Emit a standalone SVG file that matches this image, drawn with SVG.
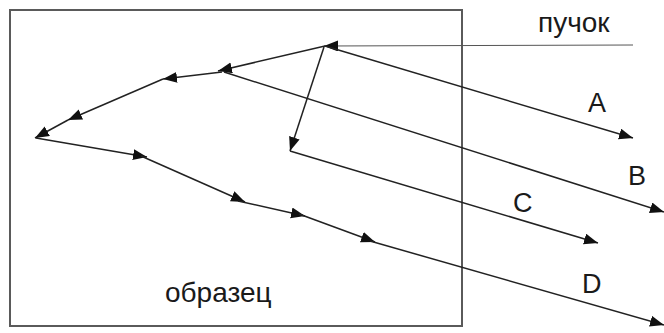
<svg xmlns="http://www.w3.org/2000/svg" width="664" height="333" viewBox="0 0 664 333">
<style>
.ray{stroke:#222;stroke-width:1.5;fill:none;marker-end:url(#ah)}
.beamline{stroke:#555;stroke-width:1;fill:none;marker-end:url(#ah)}
.lbl{font-family:"Liberation Sans",Arial,sans-serif;fill:#1a1a1a}
</style>
<defs>
<marker id="ah" markerUnits="userSpaceOnUse" markerWidth="15" markerHeight="12" refX="14" refY="5.5" orient="auto">
<path d="M0,0 L14,5.5 L0,11 Z" fill="#111"/>
</marker>
</defs>
<rect width="664" height="333" fill="#fff"/>
<g id="sample">
<rect x="10" y="10" width="452" height="316" fill="none" stroke="#5a5a5a" stroke-width="2"/>
<text class="lbl" x="165" y="302" font-size="28">образец</text>
</g>
<g id="beam">
<text class="lbl" x="538" y="32" font-size="28">пучок</text>
</g>
<g id="labels">
<text class="lbl" x="588" y="112" font-size="27">A</text>
<text class="lbl" x="628" y="185" font-size="27">B</text>
<text class="lbl" x="513" y="212" font-size="27">C</text>
<text class="lbl" x="582" y="293" font-size="27">D</text>
</g>
<g id="connectors">
<line x1="633" y1="45" x2="324" y2="46" class="beamline"/>
<line x1="325" y1="46" x2="218" y2="71" class="ray"/>
<line x1="222" y1="72" x2="163" y2="79" class="ray"/>
<line x1="163" y1="79" x2="68" y2="120" class="ray"/>
<line x1="68" y1="120" x2="35" y2="138" class="ray"/>
<line x1="36" y1="138" x2="147" y2="157" class="ray"/>
<line x1="141" y1="156" x2="245" y2="202" class="ray"/>
<line x1="238" y1="201" x2="305" y2="216" class="ray"/>
<line x1="299" y1="214" x2="375" y2="242" class="ray"/>
<line x1="370" y1="241" x2="664" y2="325" class="ray"/>
<line x1="324" y1="47" x2="290" y2="151" class="ray"/>
<line x1="290" y1="151" x2="598" y2="243" class="ray"/>
<line x1="224" y1="72" x2="664" y2="212" class="ray"/>
<line x1="325" y1="46" x2="633" y2="138" class="ray"/>
</g>
</svg>
